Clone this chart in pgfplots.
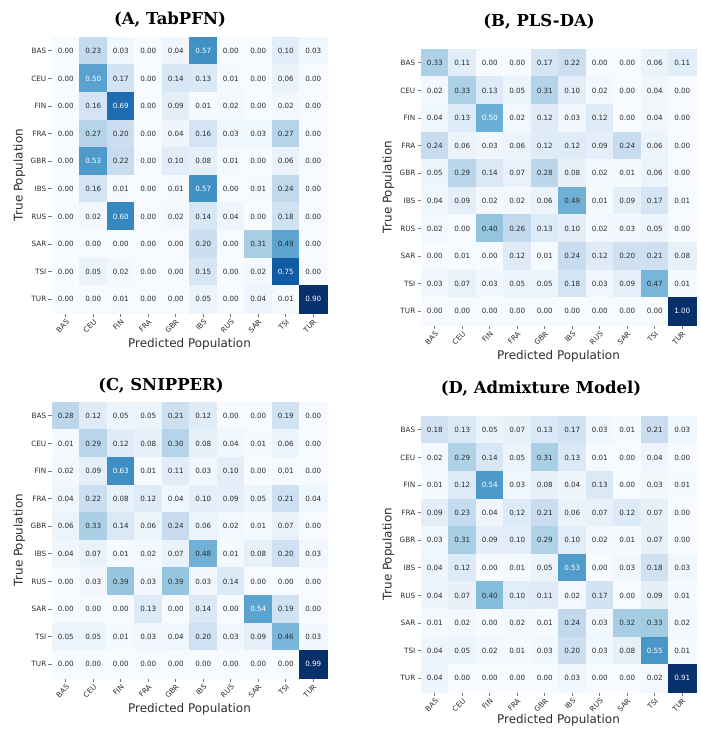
\documentclass[border=0pt]{standalone}
\usepackage{pgfplots}
\pgfplotsset{compat=1.18}
\usepackage{pgfplotstable}
\usepackage{fontspec}
\setmainfont{DejaVu Sans}
\newfontfamily\titlefont{DejaVu Serif}

\pgfplotstableread{
x y a b c d
0 0 0.00 0.33 0.28 0.18
1 0 0.23 0.11 0.12 0.13
2 0 0.03 0.00 0.05 0.05
3 0 0.00 0.00 0.05 0.07
4 0 0.04 0.17 0.21 0.13
5 0 0.57 0.22 0.12 0.17
6 0 0.00 0.00 0.00 0.03
7 0 0.00 0.00 0.00 0.01
8 0 0.10 0.06 0.19 0.21
9 0 0.03 0.11 0.00 0.03
0 1 0.00 0.02 0.01 0.02
1 1 0.50 0.33 0.29 0.29
2 1 0.17 0.13 0.12 0.14
3 1 0.00 0.05 0.08 0.05
4 1 0.14 0.31 0.30 0.31
5 1 0.13 0.10 0.08 0.13
6 1 0.01 0.02 0.04 0.01
7 1 0.00 0.00 0.01 0.00
8 1 0.06 0.04 0.06 0.04
9 1 0.00 0.00 0.00 0.00
0 2 0.00 0.04 0.02 0.01
1 2 0.16 0.13 0.09 0.12
2 2 0.69 0.50 0.63 0.54
3 2 0.00 0.02 0.01 0.03
4 2 0.09 0.12 0.11 0.08
5 2 0.01 0.03 0.03 0.04
6 2 0.02 0.12 0.10 0.13
7 2 0.00 0.00 0.00 0.00
8 2 0.02 0.04 0.01 0.03
9 2 0.00 0.00 0.00 0.01
0 3 0.00 0.24 0.04 0.09
1 3 0.27 0.06 0.22 0.23
2 3 0.20 0.03 0.08 0.04
3 3 0.00 0.06 0.12 0.12
4 3 0.04 0.12 0.04 0.21
5 3 0.16 0.12 0.10 0.06
6 3 0.03 0.09 0.09 0.07
7 3 0.03 0.24 0.05 0.12
8 3 0.27 0.06 0.21 0.07
9 3 0.00 0.00 0.04 0.00
0 4 0.00 0.05 0.06 0.03
1 4 0.53 0.29 0.33 0.31
2 4 0.22 0.14 0.14 0.09
3 4 0.00 0.07 0.06 0.10
4 4 0.10 0.28 0.24 0.29
5 4 0.08 0.08 0.06 0.10
6 4 0.01 0.02 0.02 0.02
7 4 0.00 0.01 0.01 0.01
8 4 0.06 0.06 0.07 0.07
9 4 0.00 0.00 0.00 0.00
0 5 0.00 0.04 0.04 0.04
1 5 0.16 0.09 0.07 0.12
2 5 0.01 0.02 0.01 0.00
3 5 0.00 0.02 0.02 0.01
4 5 0.01 0.06 0.07 0.05
5 5 0.57 0.49 0.48 0.53
6 5 0.00 0.01 0.01 0.00
7 5 0.01 0.09 0.08 0.03
8 5 0.24 0.17 0.20 0.18
9 5 0.00 0.01 0.03 0.03
0 6 0.00 0.02 0.00 0.04
1 6 0.02 0.00 0.03 0.07
2 6 0.60 0.40 0.39 0.40
3 6 0.00 0.26 0.03 0.10
4 6 0.02 0.13 0.39 0.11
5 6 0.14 0.10 0.03 0.02
6 6 0.04 0.02 0.14 0.17
7 6 0.00 0.03 0.00 0.00
8 6 0.18 0.05 0.00 0.09
9 6 0.00 0.00 0.00 0.01
0 7 0.00 0.00 0.00 0.01
1 7 0.00 0.01 0.00 0.02
2 7 0.00 0.00 0.00 0.00
3 7 0.00 0.12 0.13 0.02
4 7 0.00 0.01 0.00 0.01
5 7 0.20 0.24 0.14 0.24
6 7 0.00 0.12 0.00 0.03
7 7 0.31 0.20 0.54 0.32
8 7 0.49 0.21 0.19 0.33
9 7 0.00 0.08 0.00 0.02
0 8 0.00 0.03 0.05 0.04
1 8 0.05 0.07 0.05 0.05
2 8 0.02 0.03 0.01 0.02
3 8 0.00 0.05 0.03 0.01
4 8 0.00 0.05 0.04 0.03
5 8 0.15 0.18 0.20 0.20
6 8 0.00 0.03 0.03 0.03
7 8 0.02 0.09 0.09 0.08
8 8 0.75 0.47 0.46 0.55
9 8 0.00 0.01 0.03 0.01
0 9 0.00 0.00 0.00 0.04
1 9 0.00 0.00 0.00 0.00
2 9 0.01 0.00 0.00 0.00
3 9 0.00 0.00 0.00 0.00
4 9 0.00 0.00 0.00 0.00
5 9 0.05 0.00 0.00 0.03
6 9 0.00 0.00 0.00 0.00
7 9 0.04 0.00 0.00 0.00
8 9 0.01 0.00 0.00 0.02
9 9 0.90 1.00 0.99 0.91
}\cmdata

\definecolor{axgray}{RGB}{120,120,120}
\definecolor{txt}{RGB}{45,45,45}

\pgfplotsset{
  colormap={myblues}{rgb255(0cm)=(247,251,255) rgb255(1cm)=(222,235,247) rgb255(2cm)=(198,219,239) rgb255(3cm)=(158,202,225) rgb255(4cm)=(107,174,214) rgb255(5cm)=(66,146,198) rgb255(6cm)=(33,113,181) rgb255(7cm)=(8,81,156) rgb255(8cm)=(8,48,107)},
}

\pgfplotsset{
  cmstyle/.style={
    scale only axis, width=275bp, height=276bp,
    xmin=-0.5, xmax=9.5, ymin=-0.5, ymax=9.5, y dir=reverse,
    enlargelimits=false, axis on top,
    xtick={0,...,9}, ytick={0,...,9},
    xticklabels={BAS,CEU,FIN,FRA,GBR,IBS,RUS,SAR,TSI,TUR},
    yticklabels={BAS,CEU,FIN,FRA,GBR,IBS,RUS,SAR,TSI,TUR},
    tick pos=left, tick align=outside, major tick length=3.5bp,
    major tick style={axgray, line width=0.7pt},
    axis line style={axgray, line width=0.8pt},
    ticklabel style={font=\fontsize{7.3}{8}\selectfont, text=txt},
    xticklabel style={rotate=45, anchor=north east, inner sep=1.5pt},
    yticklabel style={inner sep=2pt},
    xlabel={Predicted Population}, ylabel={True Population},
    label style={font=\fontsize{12}{14}\selectfont, text=txt},
    xlabel style={yshift=1bp},
    colormap name=myblues,
    point meta min=0,
    /pgf/number format/assume math mode=true,
  },
  cells/.style={scatter, only marks, mark=square*, mark size=13.9bp,
    scatter/use mapped color={draw=mapped color, fill=mapped color}, point meta=explicit},
  vals/.style={draw=none, mark=none, point meta=explicit,
    visualization depends on={\thisrow{#1} \as \val},
    nodes near coords={\ifdim\val pt>0.495pt\color{white}\fi\pgfmathprintnumber[fixed,fixed zerofill,precision=2]{\val}},
    nodes near coords align=center,
    every node near coord/.append style={font=\fontsize{7.2}{8}\selectfont, text=txt, anchor=center, inner sep=0pt}},
}

\begin{document}
\begin{tikzpicture}
\useasboundingbox (0,0) rectangle (701bp,-729bp);

\begin{axis}[cmstyle, at={(52bp,-37bp)}, anchor=north west, point meta max=0.90]
\addplot[cells] table[x=x, y=y, meta=a] {\cmdata};
\addplot[vals=a] table[x=x, y=y, meta=a] {\cmdata};
\end{axis}

\begin{axis}[cmstyle, at={(421bp,-49bp)}, anchor=north west, point meta max=1.00]
\addplot[cells] table[x=x, y=y, meta=b] {\cmdata};
\addplot[vals=b] table[x=x, y=y, meta=b] {\cmdata};
\end{axis}

\begin{axis}[cmstyle, at={(52bp,-402bp)}, anchor=north west, point meta max=0.99]
\addplot[cells] table[x=x, y=y, meta=c] {\cmdata};
\addplot[vals=c] table[x=x, y=y, meta=c] {\cmdata};
\end{axis}

\begin{axis}[cmstyle, at={(421bp,-416bp)}, anchor=north west, point meta max=0.91, xlabel style={yshift=3bp}]
\addplot[cells] table[x=x, y=y, meta=d] {\cmdata};
\addplot[vals=d] table[x=x, y=y, meta=d] {\cmdata};
\end{axis}

\tikzset{ttl/.style={font=\titlefont\bfseries\fontsize{16.5}{18}\selectfont, inner sep=0pt}}
\node[ttl] at (170bp,-20bp) {(A, TabPFN)};
\node[ttl] at (539bp,-21.5bp) {(B, PLS-DA)};
\node[ttl] at (161bp,-386bp) {(C, SNIPPER)};
\node[ttl] at (541bp,-389bp) {(D, Admixture Model)};
\end{tikzpicture}
\end{document}
